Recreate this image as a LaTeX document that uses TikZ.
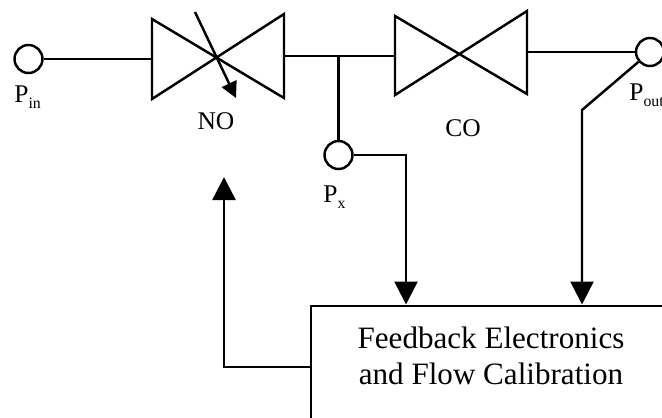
\documentclass[tikz,border=0pt]{standalone}
\usepackage{fontspec}
\setmainfont{Liberation Serif}
\usetikzlibrary{arrows.meta}
\newcommand{\portsub}[1]{\raisebox{-0.55ex}{\fontsize{9}{9}\selectfont #1}}
\tikzset{
  port/.style={circle,draw,fill=white,line width=1.4pt,minimum size=0.56cm,inner sep=0pt},
  valve/.style={line width=1.4pt,line join=miter},
  wire/.style={line width=1.4pt},
  flow/.style={wire,-{Triangle[length=0.46cm,width=0.46cm]}},
  lbl/.style={font=\fontsize{14.5}{16}\selectfont,inner sep=0pt},
}
\begin{document}
\begin{tikzpicture}[x=0.02cm,y=-0.02cm]
        \clip (0,0) rectangle (662,417);
        % valves
        \coordinate (nol) at (152,59);
        \coordinate (nor) at (284,56);
        \coordinate (col) at (395,56);
        \coordinate (cor) at (527,52);
        \coordinate (nostart) at (195,12);
        \coordinate (notip) at (236,98);
        \coordinate (tee) at (338.5,56);
        \coordinate (pxbend) at (406,155);
        \coordinate (outbend) at (582,110);
        \coordinate (fbbend) at (224,367);
        \coordinate (fbtip) at (224,177);
        \draw[valve] (152,19) -- (152,99) -- (284,14) -- (284,98) -- cycle;
        \draw[valve] (395,16) -- (395,95) -- (527,11) -- (527,94) -- cycle;
        \draw[wire,-{Triangle[length=0.32cm,width=0.32cm]}] (nostart) -- (notip);
        % ports
        \node[port] (pin) at (28.5,59) {};
        \node[port] (px) at (338.5,155) {};
        \node[port] (pout) at (650,52) {};
        \node[lbl,anchor=west] (pinl) at (14,97) {P\portsub{in}};
        \node[lbl,anchor=west] (pxl) at (323,197) {P\portsub{x}};
        \node[lbl,anchor=west] (poutl) at (629,95) {P\portsub{out}};
        \node[lbl] (nol2) at (216,121) {NO};
        \node[lbl] (col2) at (463,128) {CO};
        % box runs off the page on two sides
        \node[draw,line width=1.4pt,anchor=north west,minimum width=7.4cm,minimum height=2.8cm] (fb) at (310,304.5) {};
        \node[lbl,font=\fontsize{17.7}{20.4}\selectfont,align=center] (fbl) at (491,356) {Feedback Electronics\\and Flow Calibration};
        \draw[wire] (pin) -- (nol);
        \draw[wire] (nor) -- (col);
        \draw[wire] (cor) -- (pout);
        \draw[wire] (tee) -- (px);
        \draw[flow] (px) -| (pxbend |- fb.north);
        \draw[flow] (pout) -- (outbend) -- (outbend |- fb.north);
        \draw[flow] (fbbend -| fb.west) -- (fbbend) -- (fbtip);
      \end{tikzpicture}
\end{document}
